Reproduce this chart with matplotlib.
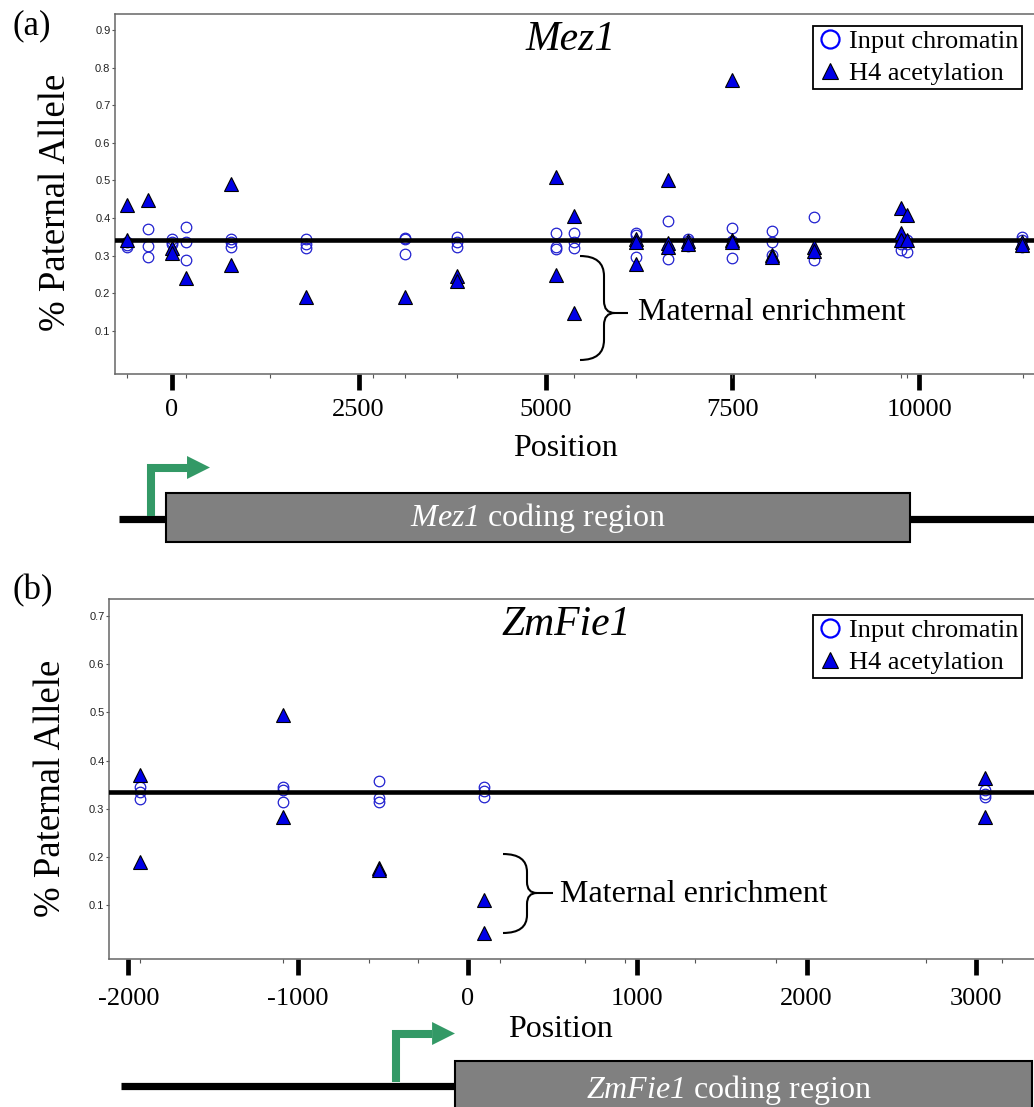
import matplotlib
matplotlib.use('Agg')
import matplotlib.pyplot as plt
from matplotlib.lines import Line2D
from matplotlib.patches import Rectangle, Polygon, PathPatch
from matplotlib.path import Path
from matplotlib.transforms import Affine2D

# ---------------- data ----------------
# Panel (a): Mez1
mez1_sites = [-590, -310, 0, 190, 795, 1800, 3120, 3815, 5135, 5380, 6210,
              6640, 6910, 7490, 8035, 8595, 9750, 9830, 11375]
mez1_input = [[0.335, 0.327, 0.322], [0.371, 0.326, 0.297], [0.344, 0.336, 0.330],
              [0.377, 0.336, 0.288], [0.344, 0.336, 0.323], [0.344, 0.331, 0.320],
              [0.347, 0.344, 0.304], [0.350, 0.335, 0.322], [0.359, 0.322, 0.317],
              [0.359, 0.337, 0.319], [0.361, 0.354, 0.297], [0.392, 0.320, 0.290],
              [0.345, 0.338, 0.325], [0.373, 0.338, 0.293], [0.366, 0.337, 0.302],
              [0.402, 0.307, 0.288], [0.337, 0.330, 0.315], [0.342, 0.330, 0.310],
              [0.350, 0.342, 0.324]]
mez1_h4 = [[0.435, 0.342], [0.448], [0.320, 0.307], [0.240], [0.490, 0.275],
           [0.190], [0.190], [0.246, 0.233], [0.510, 0.248], [0.405, 0.147],
           [0.345, 0.337, 0.278], [0.500, 0.333, 0.324], [0.338, 0.330],
           [0.767, 0.342, 0.335], [0.302, 0.296], [0.322, 0.313],
           [0.426, 0.359, 0.342], [0.408, 0.342], [0.337, 0.328]]
mez1_ref = 0.342
mez1_xticks = [0, 2500, 5000, 7500, 10000]
mez1_minor = [-600, 190, 1315, 2690, 3120, 3815, 5380, 6215, 7490, 8600, 9760, 9830, 11380]
mez1_yticks = [0.1, 0.2, 0.3, 0.4, 0.5, 0.6, 0.7, 0.8, 0.9]

# Panel (b): ZmFie1
fie1_sites = [-1930, -1090, -520, 100, 3050]
fie1_input = [[0.346, 0.334, 0.320], [0.345, 0.339, 0.314], [0.358, 0.323, 0.314],
              [0.346, 0.336, 0.325], [0.339, 0.331, 0.324]]
fie1_h4 = [[0.370, 0.189], [0.495, 0.284], [0.177, 0.173], [0.111, 0.042], [0.363, 0.282]]
fie1_ref = 0.334
fie1_xticks = [-2000, -1000, 0, 1000, 2000, 3000]
fie1_minor = [-1932, -1088, -581, -292, 192, 693, 929, 1342, 1820, 2705, 3153]
fie1_yticks = [0.1, 0.2, 0.3, 0.4, 0.5, 0.6, 0.7]

legend_labels = ['Input chromatin', 'H4 acetylation']

# gene structures (in position units)
mez1_gene = dict(line_start=-710, cds_start=-75, cds_end=9874, tss=-276, arrow_base=206, arrow_tip=513)
fie1_gene = dict(line_start=-2044, cds_start=-74, cds_end=3330, tss=-419, arrow_base=-209, arrow_tip=-74)

# ---------------- style ----------------
W, H = 1034, 1107
plt.rcParams['font.family'] = ['Liberation Serif', 'DejaVu Serif']
plt.rcParams['mathtext.fontset'] = 'custom'
plt.rcParams['mathtext.sf'] = 'Liberation Serif:italic'
plt.rcParams['mathtext.it'] = 'Liberation Serif:italic'
plt.rcParams['mathtext.rm'] = 'Liberation Serif'

CIRC = '#2020d0'
TRI = '#0000e6'
GREEN = '#339966'

fig = plt.figure(figsize=(W / 100, H / 100), dpi=100)
pix = Affine2D().scale(1 / W, -1 / H).translate(0, 1) + fig.transFigure


def px_rect(l, t, r, b):
    return [l / W, 1 - b / H, (r - l) / W, (b - t) / H]


def flatten(sites, vals):
    xs = [s for s, v in zip(sites, vals) for _ in v]
    ys = [y for v in vals for y in v]
    return xs, ys


def brace(x0, x1, x2, yt, ym, yb, r=20, r2=12):
    M, C, L = Path.MOVETO, Path.CURVE3, Path.LINETO
    verts = [(x0, yt), (x1, yt), (x1, yt + r), (x1, ym - r2), (x1, ym), (x1 + r2 * 0.9, ym), (x2, ym),
             (x1 + r2 * 0.9, ym), (x1, ym), (x1, ym + r2), (x1, yb - r), (x1, yb), (x0, yb)]
    codes = [M, C, C, L, C, C, L, M, C, C, L, C, C]
    fig.add_artist(PathPatch(Path(verts, codes), transform=pix, fill=False,
                             lw=1.5, ec='black', capstyle='butt'))


def panel(box, xlim, ylim, sites, inp, h4, ref, xticks, minor, yticks,
          xlabel_xy, ylabel_xy, xpad, legend_top):
    ax = fig.add_axes(px_rect(*box))
    xi, yi = flatten(sites, inp)
    xh, yh = flatten(sites, h4)
    ax.plot(xi, yi, ls='none', marker='o', ms=7.6, mfc='none', mec=CIRC, mew=0.9, zorder=3)
    ax.axhline(ref, color='black', lw=3.3, zorder=3.5)
    ax.plot(xh, yh, ls='none', marker='^', ms=10.5, mfc=TRI, mec='black', mew=0.8, zorder=4)
    ax.set_xlim(*xlim)
    ax.set_ylim(*ylim)
    ax.spines['right'].set_visible(False)
    for s in ('left', 'top', 'bottom'):
        ax.spines[s].set_color('#666666')
        ax.spines[s].set_linewidth(1.1)
    ax.set_yticks(yticks)
    ax.set_yticklabels([f'{t:.1f}' for t in yticks])
    ax.tick_params(axis='y', length=2.5, width=0.8, color='#555555', pad=0.8,
                   labelsize=8, labelcolor='#222222')
    for lb in ax.get_yticklabels():
        lb.set_fontfamily(['Liberation Sans', 'DejaVu Sans'])
    ax.set_xticks(xticks)
    ax.set_xticklabels([str(t) for t in xticks])
    ax.set_xticks(minor, minor=True)
    ax.tick_params(axis='x', which='major', length=11.5, width=3.4, color='black',
                   pad=xpad, labelsize=19)
    ax.tick_params(axis='x', which='minor', length=3, width=0.8, color='#555555')
    ax.set_xlabel('Position', fontsize=23)
    ax.xaxis.set_label_coords(*xlabel_xy)
    ax.set_ylabel('% Paternal Allele', fontsize=26.5)
    ax.yaxis.set_label_coords(*ylabel_xy)
    handles = [Line2D([], [], ls='none', marker='o', ms=13, mfc='none', mec='#0000ff', mew=1.6),
               Line2D([], [], ls='none', marker='^', ms=11.5, mfc=TRI, mec='black', mew=0.8)]
    leg = ax.legend(handles, legend_labels, loc='upper left',
                    bbox_to_anchor=(813 / W, 1 - legend_top / H), bbox_transform=fig.transFigure,
                    frameon=True, fancybox=False, edgecolor='black', framealpha=1,
                    borderpad=0.15, handlelength=1.0, handletextpad=0.2, labelspacing=0.3,
                    borderaxespad=0, fontsize=19)
    leg.get_frame().set_linewidth(1.3)
    return ax


def gene(box, xlim, g, line_y, line_end, box_top, box_bot, label, label_x, label_base,
         arrow_y, head_half):
    gax = fig.add_axes(px_rect(*box))
    gax.set_xlim(*xlim)
    gax.set_ylim(box[3], box[1])
    gax.axis('off')
    gax.plot([g['line_start'], line_end], [line_y, line_y], color='black', lw=5.2,
             solid_capstyle='butt', zorder=1)
    gax.add_patch(Rectangle((g['cds_start'], box_top), g['cds_end'] - g['cds_start'],
                            box_bot - box_top, fc='#808080', ec='black', lw=1.5, zorder=2))
    gax.text(label_x, label_base, label, color='white', ha='center', va='baseline',
             fontsize=23, zorder=3)
    gax.plot([g['tss'], g['tss'], g['arrow_base']], [line_y - 3.5, arrow_y, arrow_y],
             color=GREEN, lw=5.8, solid_joinstyle='miter', solid_capstyle='butt', zorder=3)
    gax.add_patch(Polygon([(g['arrow_base'], arrow_y - head_half), (g['arrow_base'], arrow_y + head_half),
                           (g['arrow_tip'], arrow_y)], closed=True, fc=GREEN, ec='none', zorder=3))


# ---------------- panel (a) ----------------
xlim_a = (-757, 11532)
panel((115, 14, 1034, 374), xlim_a, (-0.015, 0.943), mez1_sites, mez1_input, mez1_h4,
      mez1_ref, mez1_xticks, mez1_minor, mez1_yticks,
      xlabel_xy=(0.4897, -0.1667), ylabel_xy=(-0.0457, 0.4764), xpad=6.5, legend_top=26)
fig.text(571, 50, 'Mez1', transform=pix, ha='center', va='baseline', fontsize=30, style='italic')
fig.text(12, 34, '(a)', transform=pix, ha='left', va='baseline', fontsize=25)
brace(580, 604, 628, 256, 313, 360)
fig.text(638, 320.5, 'Maternal enrichment', transform=pix, ha='left', va='baseline', fontsize=23)
gene((115, 440, 1034, 550), xlim_a, mez1_gene, line_y=519, line_end=xlim_a[1],
     box_top=493, box_bot=542, label=r'$\mathsf{Mez1}$ coding region',
     label_x=(mez1_gene['cds_start'] + mez1_gene['cds_end']) / 2, label_base=526,
     arrow_y=467.5, head_half=11.5)

# ---------------- panel (b) ----------------
xlim_b = (-2115, 3342)
panel((109, 599, 1034, 959), xlim_b, (-0.0116, 0.7353), fie1_sites, fie1_input, fie1_h4,
      fie1_ref, fie1_xticks, fie1_minor, fie1_yticks,
      xlabel_xy=(0.4876, -0.1556), ylabel_xy=(-0.0443, 0.475), xpad=9.6, legend_top=615)
fig.text(566, 635, 'ZmFie1', transform=pix, ha='center', va='baseline', fontsize=30, style='italic')
fig.text(12, 599, '(b)', transform=pix, ha='left', va='baseline', fontsize=25)
brace(503, 527, 553, 854, 893, 933, r=18, r2=11)
fig.text(560, 901.5, 'Maternal enrichment', transform=pix, ha='left', va='baseline', fontsize=23)
gene((109, 1010, 1034, 1107), xlim_b, fie1_gene, line_y=1085.5, line_end=fie1_gene['cds_start'],
     box_top=1061, box_bot=1115, label=r'$\mathsf{ZmFie1}$ coding region',
     label_x=1543, label_base=1098, arrow_y=1033.5, head_half=11.5)

fig.savefig('out.png', dpi=100)
